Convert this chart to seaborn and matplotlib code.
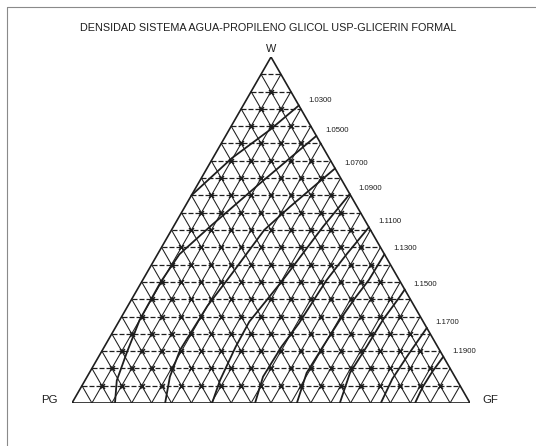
import numpy as np
import pandas as pd
import matplotlib
matplotlib.use("Agg")
import matplotlib.pyplot as plt
from matplotlib.lines import Line2D
import seaborn as sns

sns.set_theme(style="white")
plt.rcParams["font.family"] = ["Liberation Sans", "DejaVu Sans"]

# ---------------- data ----------------
title = "DENSIDAD SISTEMA AGUA-PROPILENO GLICOL USP-GLICERIN FORMAL"
vertex_labels = ["W", "PG", "GF"]
n_div = 20  # grid divisions (5 % steps)

density_labels = ["1.0300", "1.0500", "1.0700", "1.0900", "1.1100",
                  "1.1300", "1.1500", "1.1700", "1.1900"]

# iso-density lines, read as (% GF, % W) points, from the W-GF edge down
c1030_gf = [14.0, 10.3, 4.8, 0.0]
c1030_w = [86.0, 79.0, 70.8, 60.0]

c1050_gf = [22.8, 15.5, 9.2, 5.5, 4.8, 5.0, 6.5, 8.0, 10.8]
c1050_w = [77.2, 63.5, 51.0, 43.0, 35.0, 24.0, 14.5, 6.5, 0.0]

c1070_gf = [32.2, 26.4, 23.3, 21.5, 20.0, 19.5, 20.8, 23.4]
c1070_w = [67.8, 56.7, 50.0, 37.5, 28.0, 15.3, 7.6, 0.0]

c1090_gf = [39.6, 37.6, 35.2, 32.8, 33.0, 33.9, 35.2]
c1090_w = [60.4, 51.0, 35.5, 23.5, 16.3, 6.6, 0.0]

c1110_gf = [49.2, 47.5, 46.2, 45.5, 44.5, 44.2, 46.0]
c1110_w = [50.8, 43.0, 35.5, 23.0, 16.3, 7.6, 0.0]

c1130_gf = [57.0, 56.8, 56.0, 55.3, 54.9, 54.6, 56.5]
c1130_w = [43.0, 35.5, 30.7, 24.0, 16.3, 8.7, 0.0]

c1150_gf = [67.2, 67.0, 66.1, 65.9, 65.5, 67.3]
c1150_w = [32.8, 30.6, 24.0, 16.3, 8.7, 0.0]

c1170_gf = [78.3, 77.5, 77.0, 77.6]
c1170_w = [21.7, 14.0, 7.0, 0.0]

c1190_gf = [86.6, 86.0, 85.8, 86.2]
c1190_w = [13.4, 9.0, 4.5, 0.0]

contour_gf = [c1030_gf, c1050_gf, c1070_gf, c1090_gf, c1110_gf,
              c1130_gf, c1150_gf, c1170_gf, c1190_gf]
contour_w = [c1030_w, c1050_w, c1070_w, c1090_w, c1110_w,
             c1130_w, c1150_w, c1170_w, c1190_w]

# ---------------- helpers ----------------
S3 = np.sqrt(3) / 2


def to_xy(gf, w):
    gf = np.asarray(gf, dtype=float) / 100.0
    w = np.asarray(w, dtype=float) / 100.0
    return gf + w / 2.0, w * S3


def pt(gf, w):
    x, y = to_xy(gf, w)
    return float(x), float(y)


# ---------------- figure ----------------
fig = plt.figure(figsize=(5.36, 4.46), dpi=100)
ax = fig.add_axes([72 / 536, 43 / 446, 398 / 536, 346 / 446])
ax.set_xlim(0, 1)
ax.set_ylim(0, S3)
ax.axis("off")

ink = "#1e1e1e"

# grid lines
for k in range(1, n_div):
    f = 100.0 * k / n_div
    # constant W (horizontal, dashed)
    x, y = to_xy([0, 100 - f], [f, f])
    ax.plot(x, y, color=ink, lw=0.9, ls=(0, (4, 1.6)), zorder=1)
    # constant GF
    x, y = to_xy([f, f], [0, 100 - f])
    ax.plot(x, y, color=ink, lw=0.75, zorder=1)
    # constant PG
    x, y = to_xy([100 - f, 0], [0, 100 - f])
    ax.plot(x, y, color=ink, lw=0.75, zorder=1)

# node markers
node_gf, node_w = [], []
for i in range(1, n_div):
    for j in range(1, n_div - i):
        node_w.append(100.0 * i / n_div)
        node_gf.append(100.0 * j / n_div)
nx_, ny_ = to_xy(node_gf, node_w)
sns.scatterplot(x=nx_, y=ny_, marker="x", s=12, color=ink, linewidth=1.2,
                ax=ax, zorder=2, legend=False)

# outline
x, y = to_xy([0, 100, 0, 0], [0, 0, 100, 0])
ax.plot(x, y, color=ink, lw=1.2, zorder=3, solid_joinstyle="miter")

# iso-density lines
rows = []
for lab, gfs, ws in zip(density_labels, contour_gf, contour_w):
    xs, ys = to_xy(gfs, ws)
    for o, (a, b) in enumerate(zip(xs, ys)):
        rows.append({"level": lab, "order": o, "x": a, "y": b})
df = pd.DataFrame(rows)
sns.lineplot(data=df, x="x", y="y", units="level", estimator=None, sort=False,
             color=ink, lw=1.3, ax=ax, zorder=4, legend=False)

# density labels at the W-GF edge
for lab, gfs, ws in zip(density_labels, contour_gf, contour_w):
    ax.annotate(lab, pt(gfs[0], ws[0]), xytext=(6.5, 3.8),
                textcoords="offset points",
                fontsize=5.6, color=ink, ha="left", va="center",
                annotation_clip=False)

# vertex labels
ax.annotate(vertex_labels[0], pt(0, 100), xytext=(0, 5.5),
            textcoords="offset points", ha="center", va="center",
            fontsize=7.8, color=ink, annotation_clip=False)
ax.annotate(vertex_labels[1], pt(0, 0), xytext=(-16, 2.5),
            textcoords="offset points", ha="center", va="center",
            fontsize=8.2, color=ink, annotation_clip=False)
ax.annotate(vertex_labels[2], pt(100, 0), xytext=(14.5, 2.5),
            textcoords="offset points", ha="center", va="center",
            fontsize=8.2, color=ink, annotation_clip=False)

# title
fig.text(268 / 536, 1 - 28 / 446, title, ha="center", va="center",
         fontsize=7.8, color=ink)

# scan frame (top and left)
fig.add_artist(Line2D([7 / 536, 1.0], [1 - 7 / 446, 1 - 7 / 446],
                      transform=fig.transFigure, color="#8a8a8a", lw=0.8))
fig.add_artist(Line2D([7 / 536, 7 / 536], [1 - 7 / 446, 0.0],
                      transform=fig.transFigure, color="#8a8a8a", lw=0.8))

fig.savefig("out.png", dpi=100, facecolor="white")
